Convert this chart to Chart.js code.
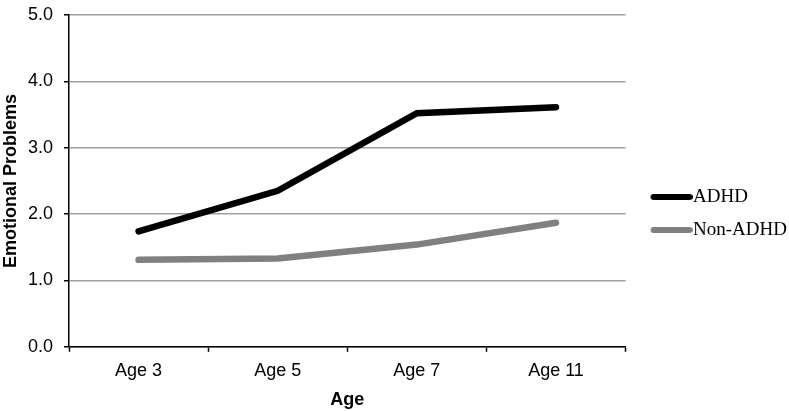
<!DOCTYPE html>
<html>
<head>
<meta charset="utf-8">
<script src="https://cdn.jsdelivr.net/npm/chart.js@4.4.1/dist/chart.umd.min.js"></script>
<style>
  html, body { margin: 0; padding: 0; background: #fff; }
  #wrap { width: 789px; height: 411px; }
</style>
</head>
<body>
<div id="wrap"><canvas id="graphique"></canvas></div>
<script>
const ages = ['Age 3', 'Age 5', 'Age 7', 'Age 11'];
const adhd = [1.74, 2.35, 3.52, 3.61];
const nonAdhd = [1.31, 1.33, 1.54, 1.87];
const yTicks = [0, 1, 2, 3, 4, 5];

const NOIR = '#000000';
const GRIS = '#808080';
const SANS = '"Liberation Sans", Arial, sans-serif';

// petite image pour la ligne de la légende (collée au texte)
function ligneLegende(couleur) {
  const c = document.createElement('canvas');
  c.width = 62; c.height = 10;
  const ctx = c.getContext('2d');
  ctx.strokeStyle = couleur;
  ctx.lineWidth = 6;
  ctx.lineCap = 'round';
  ctx.beginPath();
  ctx.moveTo(23, 5);
  ctx.lineTo(59, 5);
  ctx.stroke();
  return c;
}

// la légende prend un peu moins de place que ce que Chart.js calcule
const legendeSerree = {
  id: 'legendeSerree',
  beforeLayout(chart) {
    const lg = chart.legend;
    if (!lg || lg._serree) return;
    const fitOrig = lg.fit;
    lg.fit = function () { fitOrig.call(this); this.width -= 8; };
    lg._serree = true;
  }
};

new Chart(document.getElementById('graphique'), {
  type: 'line',
  data: {
    labels: ages,
    datasets: [{
      label: 'ADHD',
      data: adhd,
      borderColor: NOIR,
      backgroundColor: NOIR,
      borderWidth: 6.5,
      borderCapStyle: 'round',
      pointRadius: 0,
      pointStyle: ligneLegende(NOIR),
      tension: 0
    }, {
      label: 'Non-ADHD',
      data: nonAdhd,
      borderColor: GRIS,
      backgroundColor: GRIS,
      borderWidth: 6.5,
      borderCapStyle: 'round',
      pointRadius: 0,
      pointStyle: ligneLegende(GRIS),
      tension: 0
    }]
  },
  plugins: [legendeSerree],
  options: {
    responsive: true,
    maintainAspectRatio: false,
    animation: false,
    layout: { padding: { top: 0, right: 0, bottom: 0, left: 0 } },
    plugins: {
      tooltip: { enabled: false },
      legend: {
        position: 'right',
        title: { display: true, text: ' ', padding: 2, font: { size: 10 } },
        labels: {
          usePointStyle: true,
          pointStyleWidth: 44,
          padding: 14,
          color: '#000',
          font: { family: '"Liberation Serif", serif', size: 19 }
        }
      }
    },
    scales: {
      x: {
        offset: true,
        grid: { display: true, drawOnChartArea: false, offset: true, tickLength: 5, tickColor: NOIR, tickWidth: 1.5 },
        border: { color: NOIR, width: 1.5 },
        ticks: { color: '#000', padding: 8, font: { family: SANS, size: 18 } },
        title: { display: true, text: 'Age', color: '#000', padding: { top: 0, bottom: 0 },
                 font: { family: SANS, size: 18, weight: 'bold' } }
      },
      y: {
        min: 0,
        max: 5,
        afterBuildTicks: axe => { axe.ticks = yTicks.map(v => ({ value: v })); },
        afterFit: axe => { axe.width = 69; axe.paddingTop = 15; },
        grid: { color: '#a0a0a0', lineWidth: 1.5, tickLength: 5, tickColor: NOIR, tickWidth: 1.5 },
        border: { color: NOIR, width: 1.5 },
        ticks: { color: '#000', padding: 11, callback: v => v.toFixed(1),
                 font: { family: SANS, size: 18 } },
        title: { display: true, text: 'Emotional Problems', color: '#000', padding: { top: 0, bottom: 0 },
                 font: { family: SANS, size: 18, weight: 'bold' } }
      }
    }
  }
});
</script>
</body>
</html>
